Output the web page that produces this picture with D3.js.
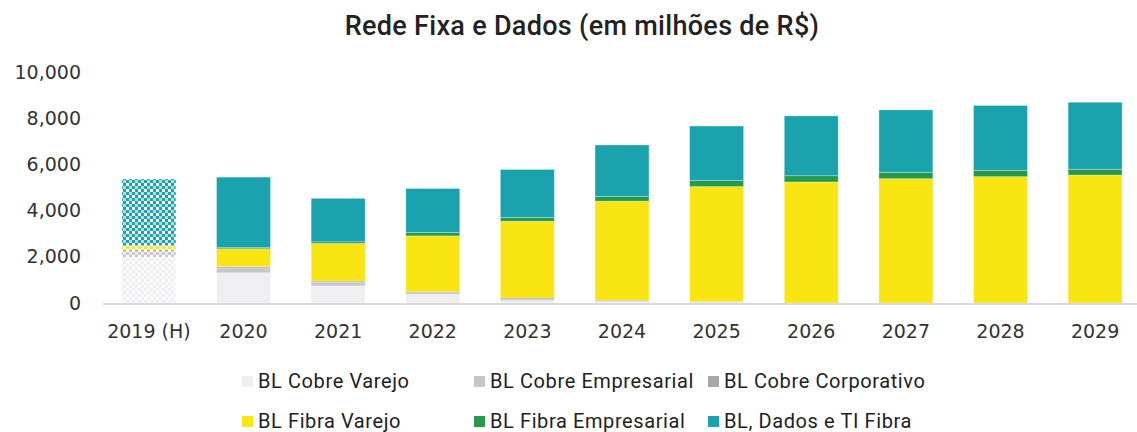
<!DOCTYPE html>
<html>
<head>
<meta charset="utf-8">
<script src="https://cdn.jsdelivr.net/npm/d3@7"></script>
<style>
  body { margin: 0; background: #fff; }
</style>
</head>
<body>
<div id="chart"></div>
<script>
    // dados (milhões de R$)
    var categories = ["2019 (H)", "2020", "2021", "2022", "2023", "2024", "2025", "2026", "2027", "2028", "2029"];
    var cobreVarejo      = [1980, 1310,  740,  370,  100,   50,   20,    0,    0,    0,    0];
    var cobreEmpresarial = [ 240,  210,  150,   70,   60,   30,   15,    0,    0,    0,    0];
    var cobreCorporativo = [ 100,   60,   60,   45,   60,   40,   25,    0,    0,    0,    0];
    var fibraVarejo      = [ 140,  770, 1630, 2420, 3320, 4290, 4980, 5240, 5380, 5470, 5540];
    var fibraEmpresarial = [  20,   50,   70,  150,  160,  200,  260,  270,  280,  270,  250];
    var dadosFibra       = [2890, 3050, 1880, 1900, 2080, 2230, 2360, 2590, 2700, 2810, 2900];
    var seriesNames = ["BL Cobre Varejo", "BL Cobre Empresarial", "BL Cobre Corporativo",
                       "BL Fibra Varejo", "BL Fibra Empresarial", "BL, Dados e TI Fibra"];
    var yTicks = [0, 2000, 4000, 6000, 8000, 10000];

    var colors = ["#EFEFF1", "#C6C6C8", "#A8A8AB", "#F8E511", "#26994A", "#1BA3AD"];
    var keys = ["cv", "ce", "cc", "fv", "fe", "df"];
    var seriesData = [cobreVarejo, cobreEmpresarial, cobreCorporativo, fibraVarejo, fibraEmpresarial, dadosFibra];

    var rows = categories.map(function(c, i) {
      var r = { cat: c };
      keys.forEach(function(k, j) { r[k] = seriesData[j][i]; });
      return r;
    });

    var W = 1137, H = 432;
    var svg = d3.select("#chart").append("svg")
      .attr("width", W).attr("height", H)
      .style("font-family", "'DejaVu Sans', sans-serif");

    // padroes xadrez para 2019 (H)
    var defs = svg.append("defs");
    colors.forEach(function(col, j) {
      var p = defs.append("pattern")
        .attr("id", "pat" + j)
        .attr("patternUnits", "userSpaceOnUse")
        .attr("width", 6).attr("height", 6);
      p.append("rect").attr("width", 6).attr("height", 6).attr("fill", "#fff");
      p.append("rect").attr("width", 3).attr("height", 3).attr("fill", col);
      p.append("rect").attr("x", 3).attr("y", 3).attr("width", 3).attr("height", 3).attr("fill", col);
      p.append("rect").attr("x", 3).attr("y", 0).attr("width", 3).attr("height", 3).attr("fill", col).attr("opacity", 0.35);
    });

    var x = d3.scaleBand()
      .domain(categories)
      .range([103, 1141])
      .paddingInner(0.43)
      .paddingOuter(0.2);

    var y = d3.scaleLinear()
      .domain([0, 10000])
      .range([303, 72]);

    // titulo
    svg.append("text")
      .attr("x", 582).attr("y", 35)
      .attr("text-anchor", "middle")
      .style("font-family", "Roboto, sans-serif")
      .style("font-weight", 500)
      .style("font-size", "27px")
      .style("letter-spacing", "0.3px")
      .attr("fill", "#222")
      .text("Rede Fixa e Dados (em milhões de R$)");

    // eixo y (so rotulos)
    svg.append("g").selectAll("text")
      .data(yTicks)
      .enter().append("text")
        .attr("x", 81)
        .attr("y", function(d) { return y(d); })
        .attr("dy", "0.35em")
        .attr("text-anchor", "end")
        .style("font-size", "19px")
        .attr("fill", "#333")
        .text(d3.format(","));

    // barras empilhadas
    var stack = d3.stack().keys(keys)(rows);
    var layers = svg.append("g").selectAll("g")
      .data(stack)
      .enter().append("g");

    layers.selectAll("rect")
      .data(function(d, j) { return d.map(function(v) { return { v: v, j: j }; }); })
      .enter().append("rect")
        .attr("x", function(d) { return x(d.v.data.cat); })
        .attr("width", x.bandwidth())
        .attr("y", function(d) { return y(d.v[1]); })
        .attr("height", function(d) { return y(d.v[0]) - y(d.v[1]); })
        .attr("fill", function(d) {
          return d.v.data.cat === categories[0] ? "url(#pat" + d.j + ")" : colors[d.j];
        })
        .attr("stroke", "#fff")
        .attr("stroke-opacity", 0.35)
        .attr("stroke-width", 0.8);

    // linha do eixo x
    svg.append("line")
      .attr("x1", 103).attr("x2", W)
      .attr("y1", y(0) + 1).attr("y2", y(0) + 1)
      .attr("stroke", "#D9D9DD")
      .attr("stroke-width", 2);

    // rotulos do eixo x
    svg.append("g").selectAll("text")
      .data(categories)
      .enter().append("text")
        .attr("x", function(d) { return x(d) + x.bandwidth() / 2; })
        .attr("y", 338)
        .attr("text-anchor", "middle")
        .style("font-size", "19px")
        .attr("fill", "#333")
        .text(function(d) { return d; });

    // legenda
    var legX = [242, 474, 708];
    var legY = [381, 421];
    var leg = svg.append("g").selectAll("g")
      .data(seriesNames)
      .enter().append("g")
        .attr("transform", function(d, i) {
          return "translate(" + legX[i % 3] + "," + legY[Math.floor(i / 3)] + ")";
        });
    leg.append("rect")
      .attr("x", 0).attr("y", -5)
      .attr("width", 11).attr("height", 11)
      .attr("fill", function(d, i) { return colors[i]; });
    leg.append("text")
      .attr("x", 16)
      .attr("dy", "0.35em")
      .style("font-family", "Roboto, sans-serif")
      .style("font-size", "20px")
      .style("letter-spacing", "0.6px")
      .attr("fill", "#222")
      .text(function(d) { return d; });
</script>
</body>
</html>
